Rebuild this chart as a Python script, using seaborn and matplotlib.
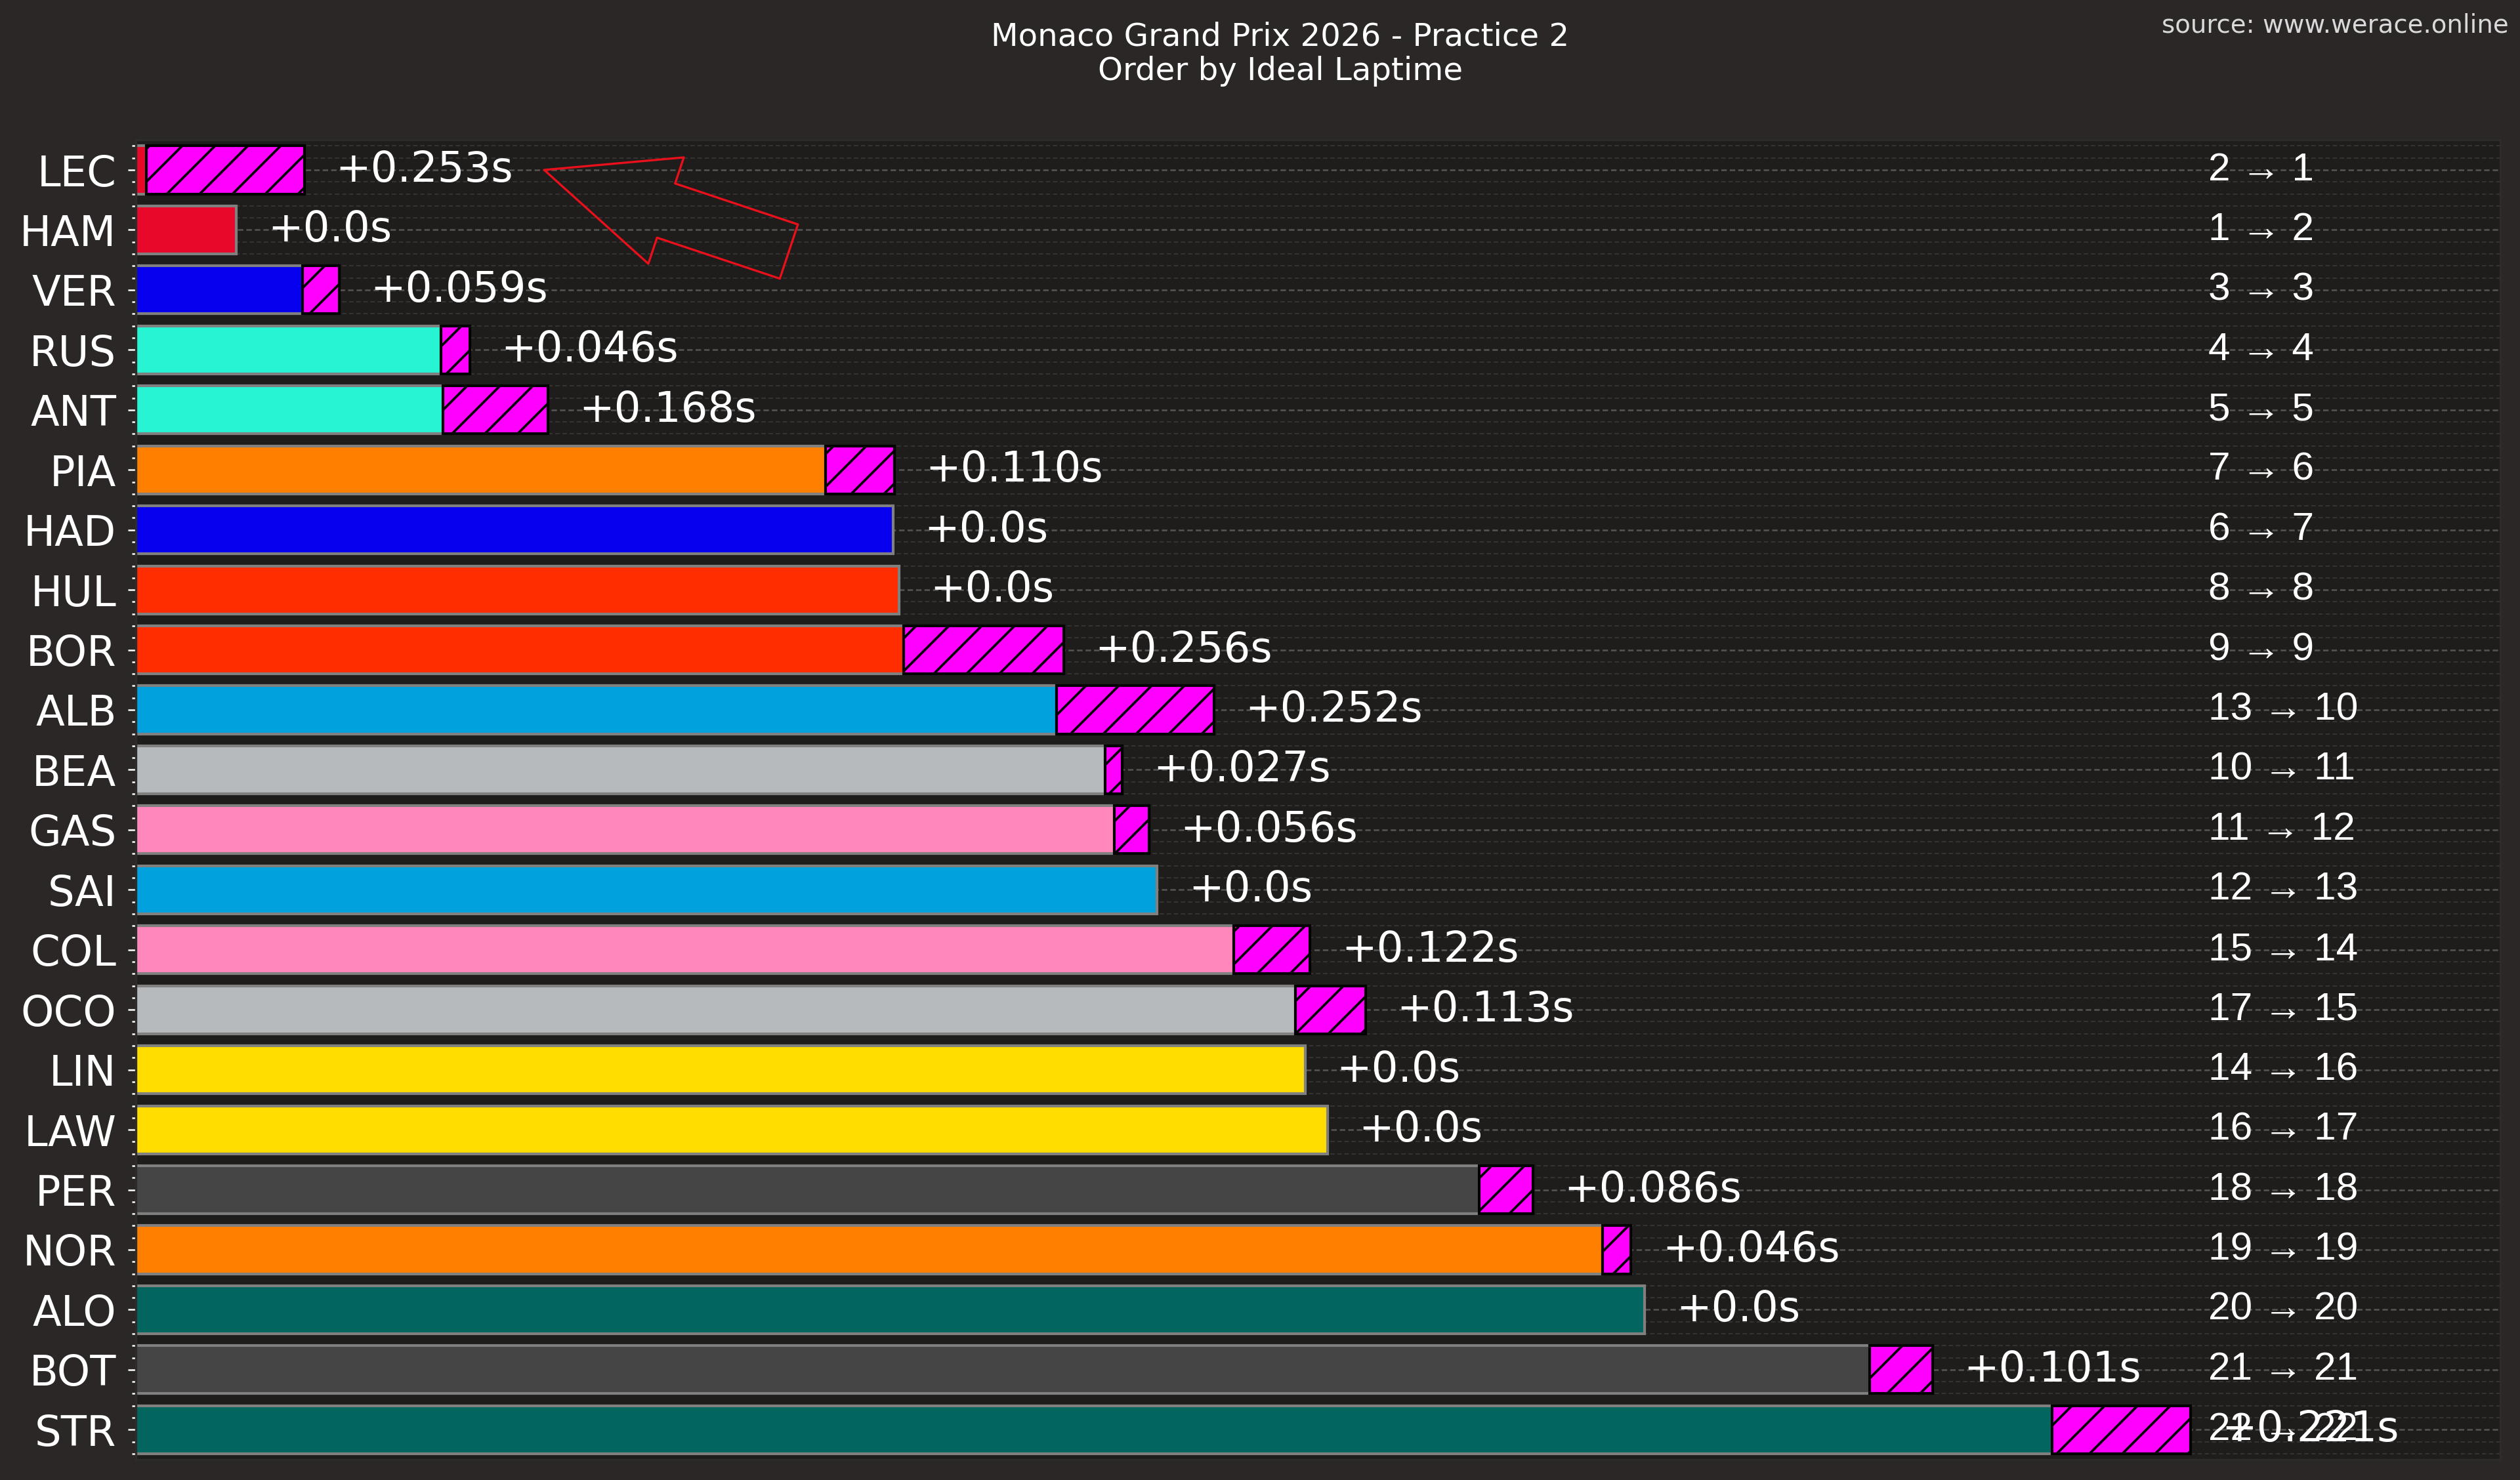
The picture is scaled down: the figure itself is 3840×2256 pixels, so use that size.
import matplotlib
matplotlib.use("Agg")
import matplotlib.pyplot as plt
import numpy as np
import pandas as pd
import seaborn as sns
from matplotlib.ticker import MultipleLocator

# ---------------- data ----------------
drivers = ["LEC", "HAM", "VER", "RUS", "ANT", "PIA", "HAD", "HUL", "BOR", "ALB", "BEA",
           "GAS", "SAI", "COL", "OCO", "LIN", "LAW", "PER", "NOR", "ALO", "BOT", "STR"]
# ideal lap gap to fastest ideal lap (s)
ideal_gap = [0.000, 0.144, 0.250, 0.472, 0.475, 1.088, 1.196, 1.205, 1.213, 1.458, 1.536,
             1.550, 1.619, 1.742, 1.840, 1.856, 1.892, 2.135, 2.332, 2.400, 2.760, 3.053]
# best lap minus ideal lap (s)
lap_delta = [0.253, 0.0, 0.059, 0.046, 0.168, 0.110, 0.0, 0.0, 0.256, 0.252, 0.027,
             0.056, 0.0, 0.122, 0.113, 0.0, 0.0, 0.086, 0.046, 0.0, 0.101, 0.221]
rank_best = [2, 1, 3, 4, 5, 7, 6, 8, 9, 13, 10, 11, 12, 15, 17, 14, 16, 18, 19, 20, 21, 22]
rank_ideal = list(range(1, 23))
team_colors = ["#e8082a", "#e8082a", "#0600ef", "#27f4d2", "#27f4d2", "#ff8000", "#0600ef",
               "#ff2d00", "#ff2d00", "#00a1dc", "#b6babd", "#ff87bc", "#00a1dc", "#ff87bc",
               "#b6babd", "#ffdd00", "#ffdd00", "#454545", "#ff8000", "#02665e", "#454545",
               "#02665e"]

title = "Monaco Grand Prix 2026 - Practice 2\nOrder by Ideal Laptime"
source = "source: www.werace.online"

REF = 1.0  # bars are drawn as (ideal lap - reference lap); reference sits left of the view

# ---------------- style ----------------
FIG_BG = "#2a2726"
AX_BG = "#1e1d1c"
sns.set_theme(style="dark")
plt.rcParams.update({
    "figure.facecolor": FIG_BG,
    "axes.facecolor": AX_BG,
    "axes.edgecolor": "#2e2c2b",
    "lines.scale_dashes": False,
    "hatch.linewidth": 0.9,
    "hatch.color": "black",
})
plt.rcParams["font.family"] = ["DejaVu Sans"]

fig = plt.figure(figsize=(12.8, 7.52), dpi=300)
ax = fig.add_axes([0.0538, 0.01374, 0.99206 - 0.0538, 0.90545 - 0.01374])

df = pd.DataFrame({"driver": drivers,
                   "ideal": [g + REF for g in ideal_gap]})

sns.barplot(data=df, x="ideal", y="driver", hue="driver", palette=team_colors,
            legend=False, saturation=1, width=0.8, edgecolor="#808080", linewidth=1.0,
            orient="h", ax=ax, zorder=2)

ideal_arr = np.array(df["ideal"])
delta_arr = np.array(lap_delta)
ypos = np.arange(len(drivers))
mask = delta_arr > 0
ax.barh(ypos[mask], delta_arr[mask], left=ideal_arr[mask], height=0.8,
        color="#ff00ff", edgecolor="black", hatch="//", linewidth=1.0, zorder=3)

# delta labels
for i, (b, d) in enumerate(zip(ideal_arr, delta_arr)):
    lab = "+0.0s" if d == 0 else f"+{d:.3f}s"
    ax.text(b + d + 0.05, i, lab, ha="left", va="center", color="white",
            fontsize=15.4, zorder=5)

# rank change labels
rank_x = REF + max(ideal_gap) + 0.25
for i, (rb, ri) in enumerate(zip(rank_best, rank_ideal)):
    ax.text(rank_x, i, f"{rb} \u2192 {ri}", ha="left", va="center", color="white",
            fontsize=14.5, family=["Liberation Sans", "DejaVu Sans"], zorder=5)

# hollow red arrow pointing at the leader's label
ax.annotate("", xy=(REF + 0.637, 0.0), xytext=(REF + 1.029, 1.36),
            arrowprops=dict(facecolor="none", edgecolor="#e8101a", width=20.9,
                            headwidth=41, headlength=47, shrink=0.0, lw=0.8),
            zorder=6)

ax.set_xlim(REF - 0.0175, REF + 3.770)
ax.set_ylim(len(drivers) - 0.5, -0.5)
ax.set_xticks([])
ax.set_xlabel("")
ax.set_ylabel("")

ax.yaxis.set_minor_locator(MultipleLocator(0.2))
ax.set_axisbelow(True)
ax.grid(axis="y", which="major", color="#555555", linestyle=(0, (2.0, 1.1)), linewidth=0.6)
ax.grid(axis="y", which="minor", color="#393837", linestyle=(0, (1.6, 1.0)), linewidth=0.4)
ax.grid(axis="x", which="both", visible=False)

ax.tick_params(axis="y", which="major", colors="white", labelsize=15.4, length=3,
               width=0.6, left=True, pad=4)
ax.tick_params(axis="y", which="minor", colors="white", length=1.5, width=0.6, left=True)
for sp in ax.spines.values():
    sp.set_visible(True)
    sp.set_color("#2e2c2b")
    sp.set_linewidth(0.8)

fig.text(0.508, 0.9858, title, ha="center", va="top", color="white", fontsize=11.6,
         linespacing=1.15)
fig.text(0.9956, 0.978, source, ha="right", va="baseline", color="#d9d9d9",
         fontsize=9.3)

fig.savefig("out.png", dpi=300, facecolor=FIG_BG)
